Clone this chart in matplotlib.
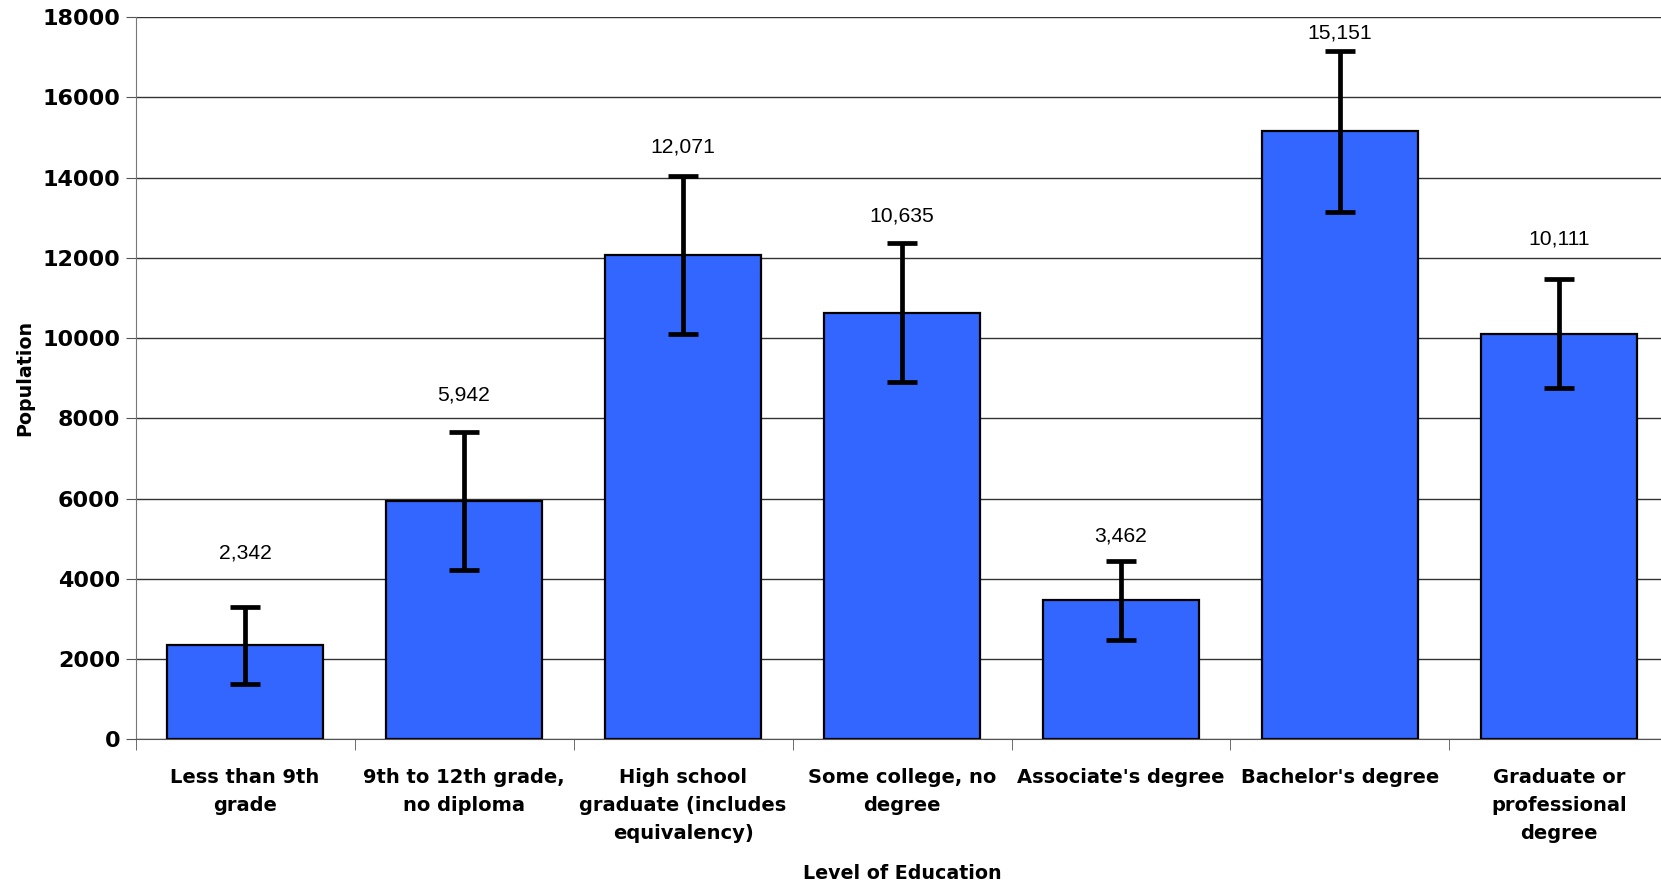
import matplotlib
matplotlib.use("Agg")
import matplotlib.pyplot as plt
import numpy as np


# данные с графика
CATEGORIES = [
    "Less than 9th\ngrade",
    "9th to 12th grade,\nno diploma",
    "High school\ngraduate (includes\nequivalency)",
    "Some college, no\ndegree",
    "Associate's degree",
    "Bachelor's degree",
    "Graduate or\nprofessional\ndegree",
]
POPULATION = [2342, 5942, 12071, 10635, 3462, 15151, 10111]
ERRORS = [950, 1715, 1960, 1740, 990, 2000, 1360]
# высота подписей значений (подобрана по картинке)
LABEL_Y = [4645, 8577, 14752, 13037, 5067, 17602, 12456]
Y_TICKS = [0, 2000, 4000, 6000, 8000, 10000, 12000, 14000, 16000, 18000]

BAR_COLOR = "#3366FF"
TICK_FONT = "DejaVu Sans"
LABEL_FONT = "Liberation Sans"


def main() -> None:
    fig = plt.figure(figsize=(16.61, 8.85), dpi=100)
    ax = fig.add_axes([0.0816, 0.1645, 0.9229, 0.8163])

    x = np.arange(len(CATEGORIES))
    ax.bar(x, POPULATION, width=0.716, color=BAR_COLOR, edgecolor="black",
           linewidth=1.6, zorder=2)
    ax.errorbar(x, POPULATION, yerr=ERRORS, fmt="none", ecolor="black",
                elinewidth=3.4, capsize=10.5, capthick=3.4, zorder=3)

    for xi, val, ly in zip(x, POPULATION, LABEL_Y):
        ax.text(xi, ly, f"{val:,}", ha="center", va="center",
                fontsize=15.2, family=LABEL_FONT)

    ax.set_xlim(-0.5, len(CATEGORIES) - 0.5)
    ax.set_ylim(0, 18000)
    ax.set_yticks(Y_TICKS)
    ax.set_yticklabels([str(t) for t in Y_TICKS], fontsize=16,
                       fontweight="bold", family=TICK_FONT)
    ax.yaxis.grid(True, color="#333333", linewidth=1.0, zorder=0)
    ax.set_axisbelow(True)

    # подписи категорий по центру, засечки между категориями
    ax.set_xticks(x)
    ax.set_xticklabels(CATEGORIES, fontsize=14, fontweight="bold",
                       family=TICK_FONT, linespacing=1.6)
    ax.set_xticks(np.arange(-0.5, len(CATEGORIES), 1.0), minor=True)
    ax.tick_params(axis="x", which="major", length=0, pad=20.5)
    ax.tick_params(axis="x", which="minor", length=8, color="#555555",
                   direction="out")
    ax.tick_params(axis="y", length=7, color="#555555", direction="out",
                   pad=4)

    for side in ["top", "right"]:
        ax.spines[side].set_visible(False)
    ax.spines["left"].set_color("#777777")
    ax.spines["bottom"].set_color("#555555")

    ax.set_xlabel("Level of Education", fontsize=13.7, fontweight="bold",
                  family=TICK_FONT, labelpad=15)
    ax.set_ylabel("Population", fontsize=13.7, fontweight="bold",
                  family=TICK_FONT, labelpad=6)

    fig.savefig("out.png", dpi=100)
    plt.close(fig)


if __name__ == "__main__":
    main()
